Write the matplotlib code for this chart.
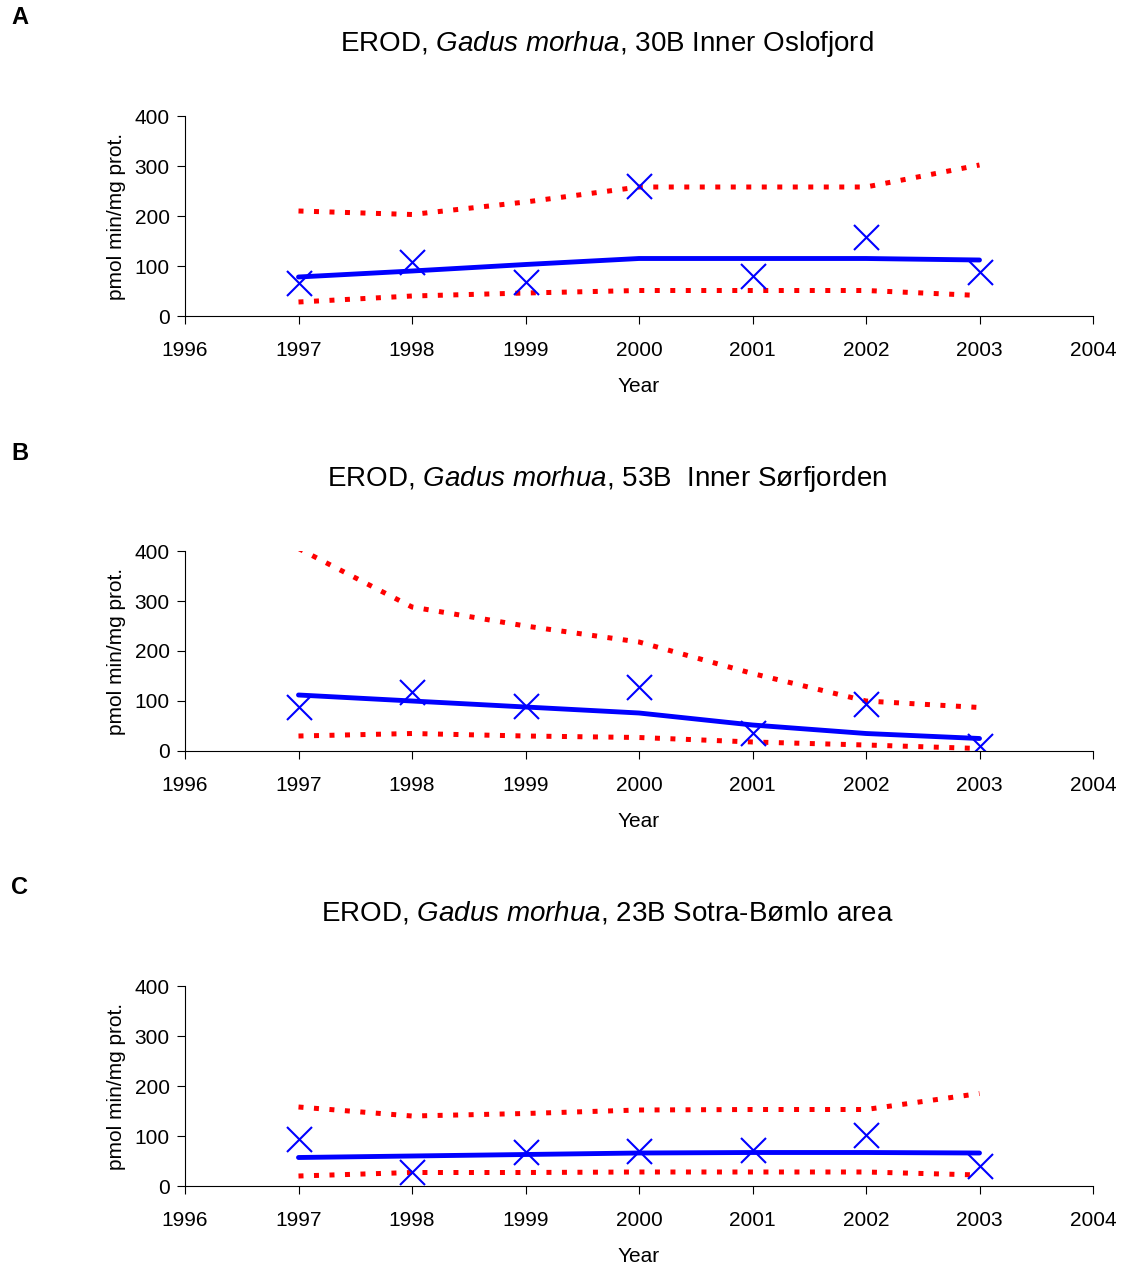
import numpy as np
import matplotlib.pyplot as plt

plt.rcParams['font.family'] = ['Liberation Sans', 'DejaVu Sans']
plt.rcParams['mathtext.fontset'] = 'custom'
plt.rcParams['mathtext.rm'] = 'Liberation Sans'
plt.rcParams['mathtext.it'] = 'Liberation Sans:italic'

years = [1997, 1998, 1999, 2000, 2001, 2002, 2003]

# A: 30B Inner Oslofjord
a_obs = [67, 108, 68, 260, 80, 158, 88]
a_trend = [78, 90, 103, 115, 115, 115, 112]
a_upper = [210, 203, 228, 258, 258, 258, 302]
a_lower = [28, 40, 46, 51, 51, 51, 41]

# B: 53B Inner Sørfjorden
b_obs = [88, 118, 90, 128, 37, 95, 10]
b_trend = [112, 100, 88, 76, 52, 35, 25]
b_upper = [405, 288, 250, 218, 155, 100, 87]
b_lower = [30, 35, 30, 27, 18, 12, 5]

# C: 23B Sotra-Bømlo area
c_obs = [95, 28, 68, 70, 72, 102, 40]
c_trend = [57, 60, 63, 66, 67, 67, 66]
c_upper = [158, 140, 145, 152, 153, 153, 185]
c_lower = [20, 27, 27, 28, 28, 28, 22]

panels = [
    ('A', r'EROD, $\mathit{Gadus\ morhua}$, 30B Inner Oslofjord', a_obs, a_trend, a_upper, a_lower),
    ('B', r'EROD, $\mathit{Gadus\ morhua}$, 53B  Inner Sørfjorden', b_obs, b_trend, b_upper, b_lower),
    ('C', r'EROD, $\mathit{Gadus\ morhua}$, 23B Sotra-Bømlo area', c_obs, c_trend, c_upper, c_lower),
]

W, H = 1122, 1267
fig = plt.figure(figsize=(W / 100, H / 100), dpi=100)

axis_tops = [116, 551, 986]
title_ys = [44, 479, 913]
letter_ys = [18, 453, 888]

for (letter, title, obs, trend, upper, lower), top, ty, ly in zip(panels, axis_tops, title_ys, letter_ys):
    ax = fig.add_axes([185 / W, 1 - (top + 200) / H, 908 / W, 200 / H])
    ax.plot(years, upper, color='red', lw=3.6, ls=(0, (1, 2.1)), dash_capstyle='butt')
    ax.plot(years, lower, color='red', lw=3.6, ls=(0, (1, 2.1)), dash_capstyle='butt')
    ax.plot(years, trend, color='#0000ff', lw=3.5, solid_capstyle='round')
    ax.plot(years, obs, ls='none', marker='x', ms=18, mew=1.5, color='#0000ff')
    ax.set_xlim(1996, 2004)
    ax.set_ylim(0, 400)
    ax.set_xticks(range(1996, 2005))
    ax.set_yticks([0, 100, 200, 300, 400])
    ax.spines['top'].set_visible(False)
    ax.spines['right'].set_visible(False)
    ax.tick_params(direction='out', length=6, labelsize=15)
    ax.tick_params(axis='x', pad=12)
    ax.tick_params(axis='y', pad=5)
    ax.set_xlabel('Year', fontsize=15, labelpad=12)
    ax.set_ylabel('pmol min/mg prot.', fontsize=15, labelpad=6)
    fig.text(607 / W, 1 - ty / H, title, fontsize=20, ha='center', va='center')
    fig.text(20 / W, 1 - ly / H, letter, fontsize=17, fontweight='bold', ha='center', va='center')

fig.savefig('out.png', dpi=100)
